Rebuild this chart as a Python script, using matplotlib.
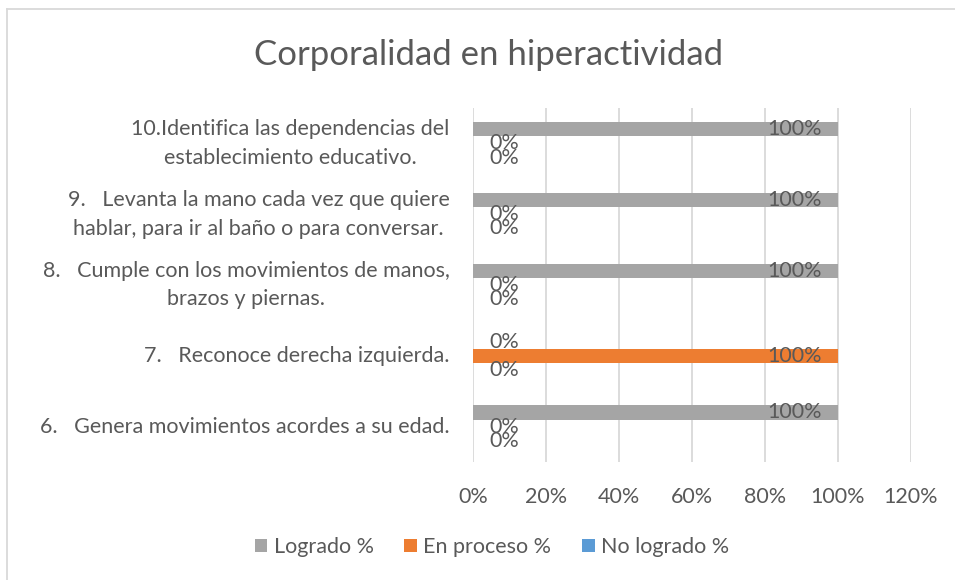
import matplotlib.pyplot as plt
import numpy as np
from matplotlib.lines import Line2D

plt.rcParams['font.family'] = ['Lato', 'DejaVu Sans']

categorias = [
    "6.   Genera movimientos acordes a su edad.",
    "7.   Reconoce derecha izquierda.",
    "8.   Cumple con los movimientos de manos,\nbrazos y piernas.",
    "9.   Levanta la mano cada vez que quiere\nhablar, para ir al baño o para conversar.",
    "10.Identifica las dependencias del\nestablecimiento educativo.",
]
logrado = [100, 0, 100, 100, 100]
en_proceso = [0, 100, 0, 0, 0]
no_logrado = [0, 0, 0, 0, 0]

series = [("Logrado %", logrado, "#A5A5A5", 0.2),
          ("En proceso %", en_proceso, "#ED7D31", 0.0),
          ("No logrado %", no_logrado, "#5B9BD5", -0.2)]

txt = "#595959"
fs = 15.5
fig = plt.figure(figsize=(9.55, 5.8), dpi=100)
ax = fig.add_axes([473/955, 1-462/580, (911-473)/955, (462-108)/580])

y = np.arange(len(categorias))
for nombre, vals, color, off in series:
    bars = ax.barh(y + off, vals, height=0.2, color=color, label=nombre)
    for b, v in zip(bars, vals):
        yc = b.get_y() + b.get_height()/2
        if v > 0:
            ax.annotate(f"{v}%", (v, yc), xytext=(-16, 0), textcoords="offset pixels",
                        ha="right", va="center", fontsize=fs, color=txt)
        else:
            ax.annotate(f"{v}%", (0, yc), xytext=(16, 0), textcoords="offset pixels",
                        ha="left", va="center", fontsize=fs, color=txt)

ax.set_xlim(0, 120)
ax.set_ylim(-0.5, len(categorias) - 0.5)
ax.set_xticks(np.arange(0, 121, 20))
ax.set_xticklabels([f"{t}%" for t in range(0, 121, 20)])
ax.set_yticks(y)
ax.set_yticklabels(categorias, linespacing=1.55)
for t in ax.get_yticklabels():
    t.set_multialignment("center")
    t.set_verticalalignment("center")
ax.tick_params(axis="both", length=0, labelsize=fs, labelcolor=txt)
ax.tick_params(axis="x", pad=18)
ax.tick_params(axis="y", pad=17)
for s in ax.spines.values():
    s.set_visible(False)
ax.grid(axis="x", color="#D9D9D9", lw=1.3)
ax.set_axisbelow(True)

fig.text(0.5115, 0.905, "Corporalidad en hiperactividad", ha="center", va="center",
         fontsize=25, color=txt)

handles, labels = ax.get_legend_handles_labels()
fig.legend(handles, labels, loc="center", bbox_to_anchor=(0.515, 0.057), ncol=3,
           frameon=False, fontsize=fs, labelcolor=txt, handlelength=0.6,
           handleheight=0.6, handletextpad=0.3, columnspacing=1.4)

fig.add_artist(Line2D([7/955, 7/955], [1-9/580, 0], color="#D9D9D9", lw=1.3))
fig.add_artist(Line2D([7/955, 1], [1-9/580, 1-9/580], color="#D9D9D9", lw=1.3))

fig.savefig("out.png", dpi=100)
